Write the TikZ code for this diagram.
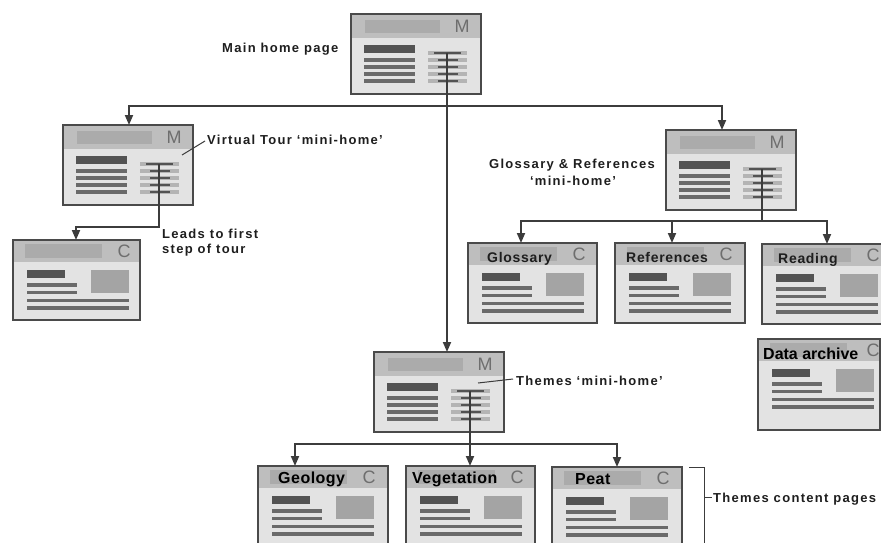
\documentclass[tikz,border=0pt]{standalone}
\usepackage{fontspec}
\setmainfont{Liberation Sans}
\newfontfamily\lblfont[LetterSpace=10]{Liberation Sans}
\newfontfamily\hdfont[LetterSpace=5]{Liberation Sans}
\newfontfamily\thfont[LetterSpace=3]{Liberation Sans}
\usetikzlibrary{arrows.meta}
\definecolor{bodyc}{HTML}{E3E3E3}
\definecolor{headc}{HTML}{BEBEBE}
\definecolor{headin}{HTML}{ABABAB}
\definecolor{darkbar}{HTML}{535353}
\definecolor{linec}{HTML}{6A6A6A}
\definecolor{picc}{HTML}{A4A4A4}
\definecolor{colbar}{HTML}{B4B4B4}
\definecolor{framec}{HTML}{4A4A4A}
\definecolor{connc}{HTML}{3C3C3C}
\definecolor{letterc}{HTML}{6E6E6E}
\definecolor{textc}{HTML}{1E1E1E}
\tikzset{
  pgw/.store in=\pgW, pgh/.store in=\pgH, pgc/.store in=\pgC,
  pgw=130, pgh=80, pgc=111,
  pageborder/.style={draw=framec, line width=1.8pt},
  conn/.style={draw=connc, line width=1.8pt},
  arr/.style={conn, -{Triangle[width=8pt,length=10pt]}},
  thinconn/.style={draw=connc, line width=1pt},
  lbl/.style={font=\lblfont\bfseries\fontsize{13}{16}\selectfont, text=textc, inner sep=0pt},
  pgletter/.style={font=\fontsize{18}{18}\selectfont, text=letterc, inner sep=0pt},
  hdtitle/.style={font=\hdfont\bfseries\fontsize{14}{16}\selectfont, text=textc, inner sep=0pt},
  thtitle/.style={font=\thfont\bfseries\fontsize{16}{18}\selectfont, text=black, inner sep=0pt},
  datitle/.style={font=\bfseries\fontsize{16}{18}\selectfont, text=black, inner sep=0pt},
  mpage/.pic={
    \fill[bodyc] (0,0) rectangle (\pgW,\pgH);
    \fill[headc] (0,0) rectangle (\pgW,24);
    \fill[headin] (14,6) rectangle (89,19);
    \node[pgletter] (-letter) at (\pgC,12) {M};
    \fill[darkbar] (13,31) rectangle (64,39);
    \foreach \yy in {46,53,60,67} \fill[linec] (13,\yy-1.9) rectangle (64,\yy+1.9);
    \foreach \yy in {39,46,53,60,67} \fill[colbar] (77,\yy-2.2) rectangle (116,\yy+2.2);
    \fill[darkbar] (83,38.2) rectangle (110,39.8);
    \foreach \yy in {46,53,60,67} \fill[darkbar] (87,\yy-.8) rectangle (107,\yy+.8);
    \draw[pageborder] (0,0) rectangle (\pgW,\pgH);
    \node[minimum width=\pgW pt, minimum height=\pgH pt, anchor=north west, inner sep=0pt, outer sep=0pt] (-frame) at (0,0) {};
    \coordinate (-hub) at (96,39);
  },
  cpage/.pic={
    \fill[bodyc] (0,0) rectangle (\pgW,\pgH);
    \fill[headc] (0,0) rectangle (\pgW,22);
    \fill[headin] (12,4) rectangle (89,18);
    \node[pgletter] (-letter) at (\pgC,11) {C};
    \fill[darkbar] (13.5,30) rectangle (52,38);
    \fill[picc] (77.5,30) rectangle (116,52.5);
    \foreach \yy in {45,52.5} \fill[linec] (13.5,\yy-1.9) rectangle (64,\yy+1.9);
    \foreach \yy in {60.5,68} \fill[linec] (13.5,\yy-1.9) rectangle (116,\yy+1.9);
    \draw[pageborder] (0,0) rectangle (\pgW,\pgH);
    \node[minimum width=\pgW pt, minimum height=\pgH pt, anchor=north west, inner sep=0pt, outer sep=0pt] (-frame) at (0,0) {};
  }
}
\begin{document}
\begin{tikzpicture}[x=1pt,y=-1pt]
\useasboundingbox (0,0) rectangle (881,543);
\clip (0,0) rectangle (881,543);
\fill[white] (0,0) rectangle (881,543);

% pages
\pic (main) at (351,14) {mpage};
\pic (vt) at (63,125) {mpage};
\pic (gm) at (666,130) {mpage};
\pic (th) at (374,352) {mpage};
\pic[pgw=127] (lead) at (13,240) {cpage};
\pic[pgw=129] (glo) at (468,243) {cpage};
\pic (ref) at (615,243) {cpage};
\pic (rd) at (762,244) {cpage};
\pic[pgw=122, pgh=91, pgc=115] (da) at (758,339) {cpage};
\pic (geo) at (258,466) {cpage};
\pic[pgw=129] (veg) at (406,466) {cpage};
\pic (peat) at (552,467) {cpage};

% page titles
\node[hdtitle, anchor=base west] (tglo) at ([xshift=19pt,yshift=-19pt]glo-frame.north west) {Glossary};
\node[hdtitle, anchor=base west] (tref) at ([xshift=11pt,yshift=-19pt]ref-frame.north west) {References};
\node[hdtitle, anchor=base west] (trd) at ([xshift=16pt,yshift=-19pt]rd-frame.north west) {Reading};
\node[datitle, anchor=base west] (tda) at ([xshift=5pt,yshift=-20pt]da-frame.north west) {Data archive};
\node[thtitle, anchor=base west] (tgeo) at ([xshift=20pt,yshift=-17pt]geo-frame.north west) {Geology};
\node[thtitle, anchor=base west] (tveg) at ([xshift=6pt,yshift=-17pt]veg-frame.north west) {Vegetation};
\node[thtitle, anchor=base west] (tpeat) at ([xshift=23pt,yshift=-17pt]peat-frame.north west) {Peat};

% connectors
\coordinate (busA) at (0,106);
\coordinate (busB) at (0,227);
\coordinate (busC) at (0,221);
\coordinate (busD) at (0,444);
\draw[arr] (main-hub) -- (main-hub |- th-frame.north);
\draw[arr] (main-hub |- busA) -| ([xshift=66pt]vt-frame.north west);
\draw[arr] (main-hub |- busA) -| ([xshift=56pt]gm-frame.north west);

\draw[arr] (vt-hub) -- (vt-hub |- busB) -| ([xshift=63pt]lead-frame.north west);

\draw[conn] (gm-hub) -- (gm-hub |- busC);
\draw[arr] (gm-hub |- busC) -| ([xshift=53pt]glo-frame.north west);
\draw[arr] (gm-hub |- busC) -| ([xshift=57pt]ref-frame.north west);
\draw[arr] (gm-hub |- busC) -| ([xshift=65pt]rd-frame.north west);

\draw[arr] (th-hub) -- (th-hub |- veg-frame.north);
\draw[arr] (th-hub |- busD) -| ([xshift=37pt]geo-frame.north west);
\draw[arr] (th-hub |- busD) -| ([xshift=65pt]peat-frame.north west);

% labels
\node[lbl, anchor=base west] (lmain) at (222,53) {Main home page};
\node[lbl, anchor=base west] (lvt) at (207,144) {Virtual Tour ‘mini-home’};
\node[lbl, anchor=base west] (llead1) at (162,238) {Leads to first};
\node[lbl, anchor=base west] (llead2) at (162,253) {step of tour};
\node[lbl, anchor=base] (lgr1) at (572,168) {Glossary \& References};
\node[lbl, anchor=base] (lgr2) at (573,185) {‘mini-home’};
\node[lbl, anchor=base west] (lth) at (516,385) {Themes ‘mini-home’};
\node[lbl, anchor=base west] (ltc) at (713,502) {Themes content pages};

\draw[thinconn] ([xshift=119pt,yshift=-30pt]vt-frame.north west) -- ([xshift=-2pt,yshift=3pt]lvt.base west);
\draw[thinconn] ([xshift=104pt,yshift=-31pt]th-frame.north west) -- ([xshift=-3pt,yshift=6pt]lth.base west);

% bracket
\coordinate (brA) at (689,467);
\coordinate (brB) at (704,560);
\coordinate (brM) at (704,497);
\draw[thinconn] (brA) -| (brB);
\draw[thinconn] (brM) -- ([xshift=-1pt,yshift=5pt]ltc.base west);
\end{tikzpicture}
\end{document}
